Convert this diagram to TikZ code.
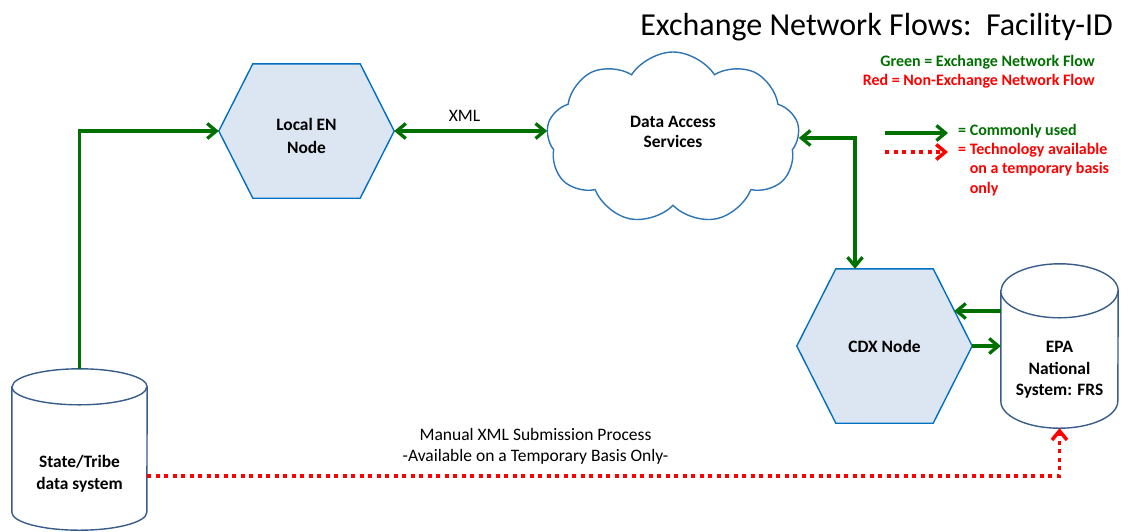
\documentclass[tikz,border=0pt]{standalone}
\usepackage{fontspec}
\setmainfont{Carlito}
\usetikzlibrary{arrows.meta,shapes.symbols,calc}
\definecolor{engreen}{RGB}{0,112,0}
\definecolor{hexfill}{RGB}{220,230,242}
\definecolor{hexline}{RGB}{0,112,192}
\definecolor{cylline}{RGB}{56,93,138}
\definecolor{cloudline}{RGB}{46,117,182}
\definecolor{enred}{RGB}{255,0,0}
\pgfdeclarelayer{background}
\pgfsetlayers{background,main}
\newcommand\myhex[2]{%
  \draw[hexshape] (#1.west) -- ($(#1.north west)+(#2,0)$) -- ($(#1.north east)+(-#2,0)$)
    -- (#1.east) -- ($(#1.south east)+(-#2,0)$) -- ($(#1.south west)+(#2,0)$) -- cycle;}
\newcommand\mycyl[3]{%
  \draw[cylshape] ($(#1.north west)+(0,-#3)$) -- ($(#1.south west)+(0,#3)$)
    arc[start angle=180,end angle=360,x radius=#2pt,y radius=#3pt]
    -- ($(#1.north east)+(0,-#3)$)
    arc[start angle=0,end angle=180,x radius=#2pt,y radius=#3pt] -- cycle;
  \draw[cylshape] ($(#1.north west)+(0,-#3)$)
    arc[start angle=180,end angle=360,x radius=#2pt,y radius=#3pt];}
\begin{document}
\begin{tikzpicture}[x=1pt,y=1pt,
  >={Straight Barb[length=9pt,width=15pt]},
  flow/.style={draw=engreen,line width=3.3pt},
  redflow/.style={draw=enred,line width=3.5pt,dash pattern=on 4pt off 4.5pt},
  hexshape/.style={draw=hexline,fill=hexfill,line width=1.4pt,line join=miter},
  cylshape/.style={draw=cylline,fill=white,line width=1.4pt},
  boxnode/.style={rectangle,inner sep=0pt},
  nodetext/.style={align=center,inner sep=0pt,font=\fontsize{17.4}{21.5}\selectfont\bfseries},
  plaintext/.style={align=center,inner sep=0pt,font=\fontsize{17.5}{21}\selectfont},
  legendtext/.style={inner sep=0pt,font=\fontsize{16}{19.5}\selectfont\bfseries}]
\path[use as bounding box] (0,0) rectangle (1129,-531);

% nodes
\node[boxnode,nodetext,minimum width=175pt,minimum height=134pt] (len) at (306.5,-131) {\mbox{}\\[0pt]Local EN\\[1.5pt]Node};
\node[boxnode,nodetext,minimum width=175pt,minimum height=154pt] (cdx) at (884.5,-346) {CDX Node};
\node[cloud,draw=cloudline,fill=white,line width=1.4pt,cloud puffs=9,cloud puff arc=115,
      aspect=1.72,minimum width=253pt,minimum height=172pt,nodetext] (das) at (673,-138) {Data Access\\[-1.5pt]Services\\[-9pt]\mbox{}};
\node[boxnode,minimum width=135pt,minimum height=161pt] (st) at (79.5,-449.5) {};
\node[nodetext] (stT) at (79.5,-474) {State/Tribe\\data system};
\node[boxnode,minimum width=117pt,minimum height=164pt] (epa) at (1059.5,-346) {};
\node[nodetext] (epaT) at (1059.5,-370) {EPA\\National\\System: FRS};

\begin{pgfonlayer}{background}
  \myhex{len}{34}
  \myhex{cdx}{39}
  \mycyl{st}{67.5}{18}
  \mycyl{epa}{58.5}{27}
\end{pgfonlayer}

% title and legend
\node[anchor=base east,inner sep=0pt,font=\fontsize{32}{38}\selectfont] (title) at (1113,-35) {Exchange Network Flows:\ \ Facility-ID};
\node[legendtext,anchor=east,align=right] (leg) at (1095,-71.5)
  {\textcolor{engreen}{Green = Exchange Network Flow}\\\textcolor{enred}{Red = Non-Exchange Network Flow}};
\coordinate (g1) at (885,-133);
\coordinate (g2) at (948,-133);
\coordinate (r1) at (885,-152);
\coordinate (r2) at (948,-152);
\draw[flow,->] (g1) -- (g2);
\draw[redflow,->] (r1) -- (r2);
\node[legendtext,anchor=base west,text=engreen] (lg1) at (958,-135) {= Commonly used};
\node[legendtext,anchor=base west,text=enred,align=left] (lg2) at (958,-193)
  {= Technology available\\\phantom{=\ }on a temporary basis\\\phantom{=\ }only};

% connectors
\draw[flow,->] (st.north) |- (len.west);
\draw[flow,<->] (len.east) -- (len.east -| das.west)
  node[pos=0.46,yshift=15pt,plaintext] (xml) {XML};
\draw[flow,<->] (das.east) -| ([xshift=-29.5pt]cdx.north);
\draw[flow,->] ([yshift=35pt]epa.west) -- ($(cdx.east)+(-18,35)$);
\draw[flow,->] (cdx.east) -- (cdx.east -| epa.west);
\draw[redflow,->] ([yshift=-26.5pt]st.east) -| (epa.south);
\node[plaintext] (man) at (535.5,-446) {Manual XML Submission Process\\-Available on a Temporary Basis Only-};
\end{tikzpicture}
\end{document}
